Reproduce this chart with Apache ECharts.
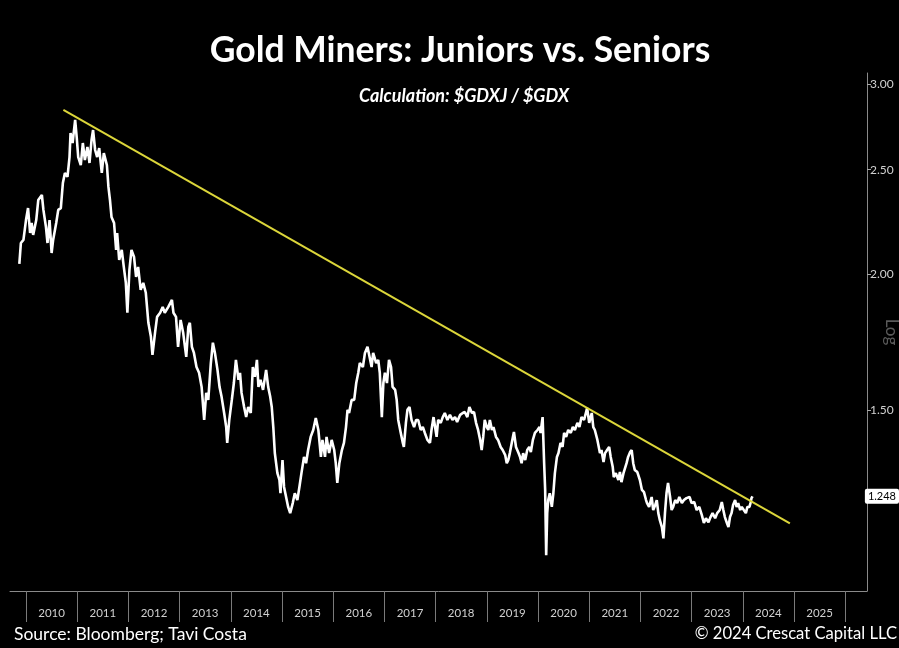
<!DOCTYPE html>
<html>
<head>
<meta charset="utf-8">
<script src="https://cdn.jsdelivr.net/npm/echarts@6/dist/echarts.min.js"></script>
<style>
html,body{margin:0;padding:0;background:#000;}
#chart{width:899px;height:648px;}
</style>
</head>
<body>
<div id="chart"></div>
<script>
// Decimal-year dates of the GDXJ/GDX ratio readings
const dates = [
2009.87,2009.90,2009.95,2010.00,2010.04,2010.08,2010.11,2010.14,2010.20,2010.24,2010.31,2010.34,2010.39,2010.42,2010.46,2010.50,2010.53,2010.59,2010.63,2010.68,
2010.72,2010.76,2010.81,2010.85,2010.87,2010.91,2010.96,2010.99,2011.02,2011.07,2011.11,2011.15,2011.20,2011.24,2011.28,2011.31,2011.35,2011.39,2011.43,2011.48,
2011.52,2011.58,2011.61,2011.64,2011.67,2011.72,2011.76,2011.78,2011.82,2011.87,2011.91,2011.95,2011.98,2012.02,2012.06,2012.11,2012.15,2012.19,2012.24,2012.29,
2012.34,2012.39,2012.44,2012.47,2012.52,2012.56,2012.62,2012.67,2012.71,2012.78,2012.85,2012.88,2012.93,2012.97,2013.02,2013.07,2013.13,2013.17,2013.20,2013.24,
2013.28,2013.33,2013.38,2013.43,2013.48,2013.52,2013.56,2013.61,2013.65,2013.69,2013.74,2013.78,2013.82,2013.87,2013.91,2013.93,2013.97,2014.02,2014.06,2014.10,
2014.15,2014.18,2014.21,2014.26,2014.30,2014.34,2014.39,2014.43,2014.47,2014.51,2014.54,2014.58,2014.63,2014.69,2014.73,2014.77,2014.80,2014.83,2014.86,2014.91,
2014.95,2014.97,2015.01,2015.04,2015.08,2015.12,2015.16,2015.21,2015.25,2015.30,2015.34,2015.38,2015.43,2015.47,2015.51,2015.56,2015.61,2015.66,2015.71,2015.76,
2015.79,2015.84,2015.87,2015.92,2015.97,2016.02,2016.05,2016.08,2016.12,2016.17,2016.21,2016.25,2016.28,2016.31,2016.36,2016.41,2016.45,2016.49,2016.52,2016.58,
2016.62,2016.67,2016.71,2016.75,2016.78,2016.84,2016.88,2016.91,2016.95,2016.98,2017.01,2017.05,2017.09,2017.13,2017.16,2017.21,2017.24,2017.27,2017.32,2017.36,
2017.38,2017.42,2017.45,2017.49,2017.53,2017.58,2017.62,2017.66,2017.71,2017.75,2017.79,2017.84,2017.89,2017.92,2017.96,2017.99,2018.02,2018.05,2018.10,2018.14,
2018.18,2018.23,2018.28,2018.33,2018.38,2018.42,2018.48,2018.53,2018.57,2018.62,2018.66,2018.71,2018.75,2018.79,2018.83,2018.87,2018.90,2018.93,2018.96,2019.00,
2019.03,2019.06,2019.10,2019.13,2019.18,2019.22,2019.27,2019.31,2019.36,2019.39,2019.42,2019.45,2019.51,2019.53,2019.57,2019.62,2019.65,2019.68,2019.71,2019.75,
2019.79,2019.83,2019.86,2019.90,2019.94,2019.99,2020.03,2020.05,2020.09,2020.12,2020.14,2020.16,2020.18,2020.20,2020.23,2020.27,2020.30,2020.33,2020.37,2020.40,
2020.44,2020.48,2020.51,2020.55,2020.59,2020.64,2020.68,2020.72,2020.77,2020.81,2020.85,2020.90,2020.94,2020.96,2021.00,2021.05,2021.08,2021.11,2021.16,2021.21,
2021.24,2021.28,2021.31,2021.35,2021.39,2021.42,2021.46,2021.48,2021.52,2021.57,2021.60,2021.63,2021.67,2021.70,2021.73,2021.76,2021.80,2021.83,2021.86,2021.89,
2021.94,2021.99,2022.03,2022.07,2022.11,2022.13,2022.17,2022.22,2022.25,2022.29,2022.32,2022.35,2022.38,2022.42,2022.45,2022.48,2022.51,2022.54,2022.58,2022.61,
2022.64,2022.68,2022.72,2022.76,2022.81,2022.85,2022.90,2022.96,2023.00,2023.05,2023.10,2023.15,2023.20,2023.24,2023.28,2023.33,2023.37,2023.41,2023.46,2023.50,
2023.55,2023.59,2023.62,2023.65,2023.69,2023.72,2023.75,2023.78,2023.81,2023.85,2023.88,2023.91,2023.95,2023.98,2024.01,2024.06,2024.09,2024.13,2024.15,2024.17,
2024.19
];
// $GDXJ / $GDX ratio
const ratio = [
2.046,2.139,2.153,2.246,2.304,2.185,2.232,2.176,2.246,2.344,2.369,2.295,2.213,2.139,2.246,2.094,2.153,2.232,2.295,2.304,
2.430,2.483,2.462,2.568,2.703,2.646,2.779,2.680,2.568,2.525,2.646,2.552,2.624,2.536,2.663,2.720,2.607,2.568,2.618,2.483,
2.590,2.525,2.410,2.344,2.261,2.232,2.108,2.185,2.063,2.108,2.033,1.965,1.844,2.020,2.108,2.077,1.990,2.033,1.936,1.965,
1.924,1.805,1.752,1.686,1.767,1.828,1.844,1.867,1.844,1.867,1.895,1.844,1.828,1.715,1.816,1.767,1.679,1.789,1.805,1.715,
1.693,1.643,1.623,1.575,1.468,1.555,1.532,1.657,1.730,1.693,1.633,1.575,1.542,1.490,1.446,1.398,1.468,1.532,1.588,1.668,
1.599,1.623,1.555,1.509,1.477,1.509,1.490,1.643,1.609,1.668,1.575,1.599,1.565,1.633,1.575,1.542,1.509,1.446,1.368,1.311,
1.292,1.256,1.348,1.273,1.246,1.220,1.204,1.230,1.256,1.238,1.273,1.311,1.357,1.339,1.377,1.416,1.437,1.474,1.437,1.357,
1.407,1.357,1.416,1.368,1.407,1.377,1.339,1.284,1.339,1.377,1.398,1.446,1.500,1.490,1.532,1.532,1.588,1.623,1.657,1.643,
1.693,1.715,1.679,1.643,1.693,1.657,1.668,1.623,1.477,1.588,1.623,1.588,1.668,1.643,1.575,1.565,1.532,1.468,1.428,1.398,
1.386,1.459,1.500,1.509,1.468,1.446,1.468,1.468,1.437,1.446,1.428,1.407,1.398,1.437,1.477,1.446,1.416,1.468,1.459,1.477,
1.490,1.468,1.484,1.468,1.477,1.462,1.484,1.490,1.493,1.477,1.509,1.490,1.493,1.459,1.437,1.407,1.377,1.416,1.468,1.446,
1.437,1.468,1.437,1.446,1.416,1.407,1.386,1.377,1.362,1.339,1.348,1.368,1.416,1.431,1.386,1.368,1.357,1.339,1.368,1.348,
1.377,1.386,1.371,1.407,1.428,1.437,1.446,1.428,1.477,1.339,1.265,1.101,1.204,1.238,1.256,1.220,1.256,1.311,1.357,1.368,
1.398,1.386,1.428,1.416,1.437,1.428,1.446,1.437,1.459,1.446,1.477,1.468,1.493,1.506,1.459,1.490,1.446,1.437,1.407,1.368,
1.377,1.342,1.368,1.377,1.386,1.357,1.328,1.300,1.311,1.292,1.314,1.286,1.311,1.306,1.339,1.357,1.371,1.377,1.339,1.320,
1.314,1.292,1.265,1.259,1.238,1.230,1.220,1.246,1.212,1.225,1.238,1.204,1.186,1.169,1.141,1.204,1.256,1.284,1.246,1.212,
1.220,1.238,1.230,1.246,1.230,1.238,1.243,1.246,1.230,1.233,1.212,1.220,1.199,1.179,1.191,1.181,1.194,1.204,1.191,1.204,
1.212,1.233,1.212,1.194,1.179,1.169,1.194,1.204,1.225,1.238,1.220,1.230,1.212,1.220,1.217,1.204,1.220,1.220,1.230,1.243,
1.248
];
// Yellow resistance trend line (two anchor readings)
const trendDates = [2010.73, 2024.92];
const trendValues = [2.839, 1.178];
// Axis labels
const yearTicks = [2010,2011,2012,2013,2014,2015,2016,2017,2018,2019,2020,2021,2022,2023,2024,2025,2026];
const yearLabels = ['2010','2011','2012','2013','2014','2015','2016','2017','2018','2019','2020','2021','2022','2023','2024','2025'];
const yTicks = [1.5, 2.0, 2.5, 3.0];
const lastValue = 1.248;

const FONT = 'Lato, "Open Sans", sans-serif';
const chart = echarts.init(document.getElementById('chart'), null, {renderer: 'canvas'});
const labelPos = yearLabels.map(s => Number(s) + 0.5);

chart.setOption({
  backgroundColor: '#000',
  animation: false,
  title: [
    {text: 'Gold Miners: Juniors vs. Seniors', left: 455, top: 28, textAlign: 'center',
     textStyle: {color: '#fff', fontSize: 35.5, fontWeight: 'bold', fontFamily: FONT}},
    {text: 'Calculation: $GDXJ / $GDX', left: 459, top: 82, textAlign: 'center',
     textStyle: {color: '#fff', fontSize: 18, fontWeight: 'bold', fontStyle: 'italic', fontFamily: FONT}}
  ],
  graphic: [
    {type: 'text', left: 14, top: 625, style: {text: 'Source: Bloomberg; Tavi Costa', fill: '#fff', font: '17.5px ' + FONT}},
    {type: 'text', right: 2, top: 625, style: {text: '\u00A9 2024 Crescat Capital LLC', fill: '#fff', font: '16.6px ' + FONT}}
  ],
  grid: {left: 10, right: 32, top: 73, bottom: 57, containLabel: false, outerBoundsMode: 'none'},
  xAxis: {
    type: 'value', min: 2009.6875, max: 2026.426,
    axisLine: {show: true, lineStyle: {color: '#8a8a8a', width: 1}},
    axisTick: {show: true, customValues: yearTicks, length: 31, inside: false, lineStyle: {color: '#7a7a7a'}},
    axisLabel: {show: true, customValues: labelPos, formatter: v => String(Math.floor(v)),
      color: '#d0d0d0', fontSize: 11.5, fontFamily: FONT, margin: 16},
    splitLine: {show: false}
  },
  yAxis: {
    type: 'log', position: 'right', min: 1.0202, max: 3.071, logBase: 10,
    name: 'Log', nameLocation: 'middle', nameRotate: -90, nameGap: 16, nameMoveOverlap: false,
    nameTextStyle: {color: '#5a5a5a', fontSize: 17, fontFamily: FONT},
    axisLine: {show: true, lineStyle: {color: '#8a8a8a', width: 1}},
    axisTick: {show: true, customValues: yTicks, length: 4, inside: false, lineStyle: {color: '#aaa'}},
    axisLabel: {show: true, customValues: yTicks, formatter: v => v.toFixed(2),
      color: '#d0d0d0', fontSize: 12, fontFamily: FONT, margin: 3},
    splitLine: {show: false},
    minorTick: {show: false},
    axisPointer: {
      show: true, status: 'show', value: lastValue, snap: false, triggerTooltip: false, type: 'line',
      lineStyle: {opacity: 0},
      label: {show: true, formatter: p => Number(p.value).toFixed(3), backgroundColor: '#fff', color: '#000',
        fontSize: 11, fontFamily: FONT, padding: [2, 3, 2, 3], margin: 4, borderRadius: 2}
    }
  },
  axisPointer: {triggerOn: 'none'},
  series: [
    {type: 'line', data: dates.map((d, i) => [d, ratio[i]]), showSymbol: false, symbol: 'none',
     lineStyle: {color: '#fff', width: 2.6}, z: 3, silent: true},
    {type: 'line', data: trendDates.map((d, i) => [d, trendValues[i]]), showSymbol: false, symbol: 'none',
     lineStyle: {color: '#dcd63a', width: 2}, z: 4, silent: true}
  ]
});
</script>
</body>
</html>
